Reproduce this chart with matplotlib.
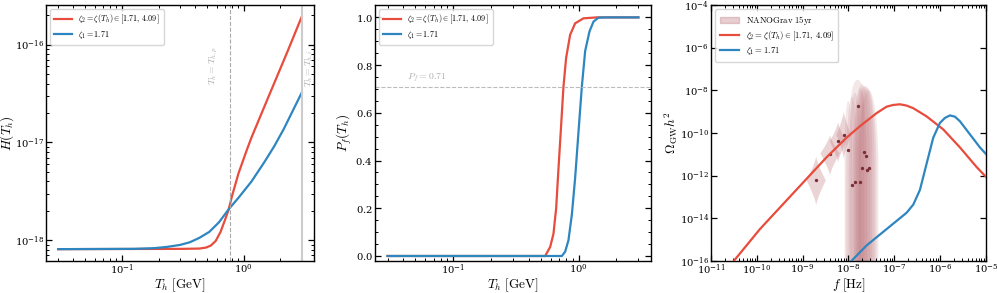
import numpy as np
import matplotlib
matplotlib.use("Agg")
import matplotlib.pyplot as plt
from matplotlib.ticker import AutoMinorLocator, LogLocator, NullLocator, NullFormatter
from matplotlib.patches import Polygon

plt.rcParams['mathtext.fontset'] = 'cm'
plt.rcParams['font.family'] = 'serif'
plt.rcParams['font.serif'] = ['DejaVu Serif']
plt.rcParams['axes.formatter.use_mathtext'] = True

RED = '#e74c3c'
BLUE = '#2e86c1'

# ---------------- Panel 1: H(T_h) ----------------
h_blue_T = [0.03, 0.127, 0.184, 0.235, 0.300, 0.361, 0.434, 0.522, 0.628, 0.755, 0.907, 1.159, 1.48,
            1.78, 2.14, 3.0]
h_blue_logH = [-18.09, -18.087, -18.08, -18.067, -18.047, -18.02, -17.974, -17.914, -17.815, -17.681,
               -17.565, -17.399, -17.2, -17.04, -16.86, -16.49]
h_red_T = [0.03, 0.319, 0.434, 0.490, 0.537, 0.589, 0.646, 0.708, 0.755, 0.802, 0.907, 1.057, 1.159,
           1.577, 2.278, 3.0]
h_red_logH = [-18.09, -18.087, -18.084, -18.074, -18.054, -18.007, -17.914, -17.781, -17.681, -17.548,
              -17.316, -17.083, -16.95, -16.551, -16.078, -15.714]
T_hp = 0.77
T_hi = 3.0

# ---------------- Panel 2: P_f(T_h) ----------------
p_red_T = [0.03, 0.542, 0.594, 0.631, 0.663, 0.692, 0.723, 0.758, 0.796, 0.857, 0.939, 1.094, 1.40, 3.0]
p_red = [0.0, 0.0, 0.038, 0.093, 0.20, 0.367, 0.53, 0.709, 0.83, 0.927, 0.975, 0.996, 1.0, 1.0]
p_blue_T = [0.03, 0.736, 0.782, 0.831, 0.885, 0.939, 0.998, 1.062, 1.129, 1.222, 1.315, 1.441, 1.68, 3.0]
p_blue = [0.0, 0.0, 0.018, 0.066, 0.175, 0.326, 0.517, 0.709, 0.859, 0.941, 0.982, 0.999, 1.0, 1.0]
P_f_line = 0.71

# ---------------- Panel 3: Omega_GW h^2 ----------------
gw_red_logf = [-10.6, -10.498, -9.931, -9.204, -8.476, -8.04, -7.749, -7.385, -7.167, -7.022, -6.876,
               -6.73, -6.585, -6.295, -5.931, -5.567, -5.204, -5.0]
gw_red_logO = [-16.25, -16.0, -14.513, -12.827, -11.142, -10.222, -9.686, -9.073, -8.77, -8.69, -8.659,
               -8.72, -8.843, -9.226, -9.839, -10.682, -11.602, -12.06]
gw_blue_logf = [-8.0, -7.931, -7.604, -7.167, -6.731, -6.585, -6.44, -6.295, -6.149, -6.004, -5.895,
                -5.785, -5.676, -5.567, -5.349, -5.131, -5.0]
gw_blue_logO = [-16.2, -16.0, -15.28, -14.513, -13.747, -13.364, -12.674, -11.448, -10.222, -9.533,
                -9.30, -9.18, -9.24, -9.456, -10.069, -10.682, -10.99]

# NANOGrav 15yr free-spectrum violins
nano_f = [1.98e-9, 3.96e-9, 5.94e-9, 7.92e-9, 9.90e-9, 1.19e-8, 1.39e-8, 1.58e-8, 1.78e-8,
          1.98e-8, 2.18e-8, 2.38e-8, 2.57e-8, 2.77e-8]
nano_med = [-12.23, -10.97, -10.40, -10.10, -10.82, -12.46, -12.32, -8.74, -12.32, -11.63,
            -10.90, -11.07, -11.74, -11.63]
nano_top = [-11.1, -10.1, -9.5, -9.0, -8.5, -8.3, -8.1, -7.5, -7.9, -7.7, -7.8, -7.8, -7.9, -8.0]
nano_bot = [-13.4, -12.0, -11.4, -11.2, -20, -20, -20, -20, -20, -20, -20, -20, -20, -20]
nano_width = [0.21, 0.21, 0.18, 0.16, 0.08, 0.13, 0.14, 0.15, 0.16, 0.17, 0.18, 0.19, 0.2, 0.21]

fig = plt.figure(figsize=(9.97, 2.93), dpi=100)
B, H = 0.11, 0.873
ax1 = fig.add_axes([0.0461, B, 0.2688, H])
ax2 = fig.add_axes([0.3761, B, 0.2768, H])
ax3 = fig.add_axes([0.7131, B, 0.2758, H])

lab_red = r'$\zeta_2=\zeta(T_h)\in[1.71,\,4.09]$'
lab_blue = r'$\zeta_1=1.71$'

def style(ax):
    ax.tick_params(which='both', direction='in', top=True, right=True, labelsize=7.2, pad=1.5)
    ax.tick_params(which='major', length=4.5, width=0.9)
    ax.tick_params(which='minor', length=2.5, width=0.7)
    ax.xaxis.set_minor_formatter(NullFormatter())
    ax.yaxis.set_minor_formatter(NullFormatter())
    for s in ax.spines.values():
        s.set_linewidth(1.0)

LBL = 9.5

# Panel 1
ax1.plot(h_red_T, 10 ** np.array(h_red_logH), color=RED, lw=1.6, label=lab_red)
ax1.plot(h_blue_T, 10 ** np.array(h_blue_logH), color=BLUE, lw=1.6, label=lab_blue)
ax1.set_xscale('log')
ax1.set_yscale('log')
ax1.axvline(T_hp, color='#aaaaaa', ls='--', lw=0.8)
ax1.axvline(T_hi, color='#cccccc', ls='-', lw=1.5)
ax1.text(0.565, 6.1e-17, r'$T_h=T_{h,p}$', rotation=90, color='#b0b0b0', fontsize=7, ha='center', va='center')
ax1.text(3.5, 5.8e-17, r'$T_h=T_{h,i}$', rotation=90, color='#b0b0b0', fontsize=7, ha='center', va='center')
ax1.set_xlabel(r'$T_h\ [\mathrm{GeV}]$', fontsize=LBL, labelpad=-0.5)
ax1.set_ylabel(r'$H(T_h)$', fontsize=LBL, labelpad=-1)
ax1.legend(loc='upper left', fontsize=5.8, handlelength=2.2, borderpad=0.5, labelspacing=0.3)
style(ax1)

# Panel 2
ax2.plot(p_red_T, p_red, color=RED, lw=1.6, label=lab_red)
ax2.plot(p_blue_T, p_blue, color=BLUE, lw=1.6, label=lab_blue)
ax2.set_xscale('log')
ax2.set_ylim(-0.02, 1.052)
ax2.axhline(P_f_line, color='#bbbbbb', ls='--', lw=0.8)
ax2.text(0.043, 0.745, r'$P_f=0.71$', color='#b0b0b0', fontsize=7, ha='left', va='center')
ax2.yaxis.set_minor_locator(AutoMinorLocator(4))
ax2.set_xlabel(r'$T_h\ [\mathrm{GeV}]$', fontsize=LBL, labelpad=-0.5)
ax2.set_ylabel(r'$P_f(T_h)$', fontsize=LBL, labelpad=1)
ax2.legend(loc='upper left', fontsize=5.8, handlelength=2.2, borderpad=0.5, labelspacing=0.3)
style(ax2)

# Panel 3
ax3.set_xscale('log')
ax3.set_yscale('log')
vcol = (0.74, 0.45, 0.48)
for f, m, t, b, w in zip(nano_f, nano_med, nano_top, nano_bot, nano_width):
    lf = np.log10(f)
    ys = np.linspace(b, t, 300)
    if b > -15:
        u = np.where(ys < m, (m - ys) / (m - b), (ys - m) / (t - m))
        hw = w * np.clip(1 - u, 0, 1) ** 1.3
        a = 0.3
    else:
        u = np.clip((ys - m) / (t - m), 0, 1)
        hw = w * np.sqrt(np.clip(1 - u ** 2, 0, 1))
        a = 0.17
    px = np.concatenate([10 ** (lf - hw), 10 ** (lf + hw)[::-1]])
    py = np.concatenate([10 ** ys, 10 ** ys[::-1]])
    ax3.add_patch(Polygon(np.column_stack([px, py]), closed=True, facecolor=vcol, alpha=a,
                          edgecolor='none', zorder=1))
ax3.plot(nano_f, 10 ** np.array(nano_med), 'o', color='#7a2e35', ms=1.4, zorder=2)
ax3.fill_between([], [], [], color=vcol, alpha=0.35, label=r'$\mathrm{NANOGrav\ 15yr}$')
ax3.plot(10 ** np.array(gw_red_logf), 10 ** np.array(gw_red_logO), color=RED, lw=1.6, label=lab_red, zorder=3)
ax3.plot(10 ** np.array(gw_blue_logf), 10 ** np.array(gw_blue_logO), color=BLUE, lw=1.6, label=lab_blue, zorder=3)
ax3.set_xlim(1e-11, 1e-5)
ax3.set_ylim(1e-16, 1e-4)
ax3.set_xticks([10.0 ** k for k in range(-11, -4)])
ax3.set_yticks([10.0 ** k for k in range(-16, -3, 2)])
ax3.yaxis.set_minor_locator(NullLocator())
ax3.xaxis.set_minor_locator(LogLocator(base=10, subs=np.arange(2, 10), numticks=20))
ax3.set_xlabel(r'$f\ [\mathrm{Hz}]$', fontsize=LBL, labelpad=-0.5)
ax3.set_ylabel(r'$\Omega_{\rm GW}h^2$', fontsize=LBL, labelpad=0)
ax3.legend(loc='upper left', fontsize=6.3, handlelength=2.2, borderpad=0.5, labelspacing=0.3)
style(ax3)

fig.savefig('out.png', dpi=100)
